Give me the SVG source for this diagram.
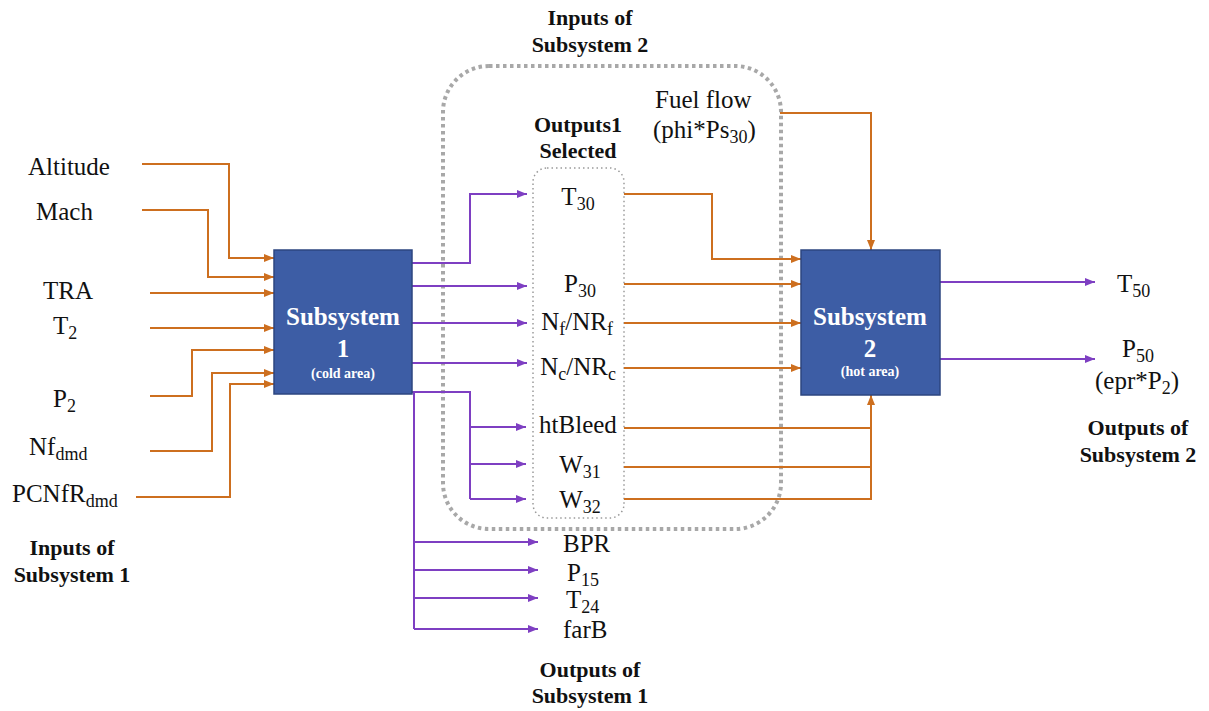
<svg xmlns="http://www.w3.org/2000/svg" width="1209" height="711" viewBox="0 0 1209 711">
<style>
.lbl{font-family:"Liberation Serif","Times New Roman",serif;font-size:25px;fill:#111;}
.sub{font-size:18px;}
.bold{font-family:"Liberation Serif","Times New Roman",serif;font-size:22px;font-weight:bold;fill:#111;}
.boxt{font-family:"Liberation Serif","Times New Roman",serif;font-weight:bold;fill:#fff;text-anchor:middle;}
.box{fill:#3D5DA5;stroke:#2C4680;stroke-width:1.5;}
.or{fill:none;stroke:#CD6F1F;stroke-width:2;}
.pu{fill:none;stroke:#7E3FC2;stroke-width:2;}
.ora{marker-end:url(#ao);}
.pua{marker-end:url(#ap);}
</style>
<defs>
<marker id="ao" markerUnits="userSpaceOnUse" markerWidth="10" markerHeight="8" refX="10" refY="4" orient="auto"><path d="M0,0 L10,4 L0,8 z" fill="#CD6F1F"/></marker>
<marker id="ap" markerUnits="userSpaceOnUse" markerWidth="10" markerHeight="8" refX="10" refY="4" orient="auto"><path d="M0,0 L10,4 L0,8 z" fill="#7E3FC2"/></marker>
</defs>
<rect width="1209" height="711" fill="#fff"/>

<g id="group-inputs2">
<rect x="443" y="66" width="338" height="463" rx="46" fill="none" stroke="#A8A8A8" stroke-width="4" stroke-dasharray="3.5 3.5"/>
<text class="bold" x="590" y="25" text-anchor="middle">Inputs of</text>
<text class="bold" x="590" y="52" text-anchor="middle">Subsystem 2</text>
</g>
<g id="group-outputs1-selected">
<rect x="533" y="168" width="91" height="350" rx="14" fill="none" stroke="#9A9A9A" stroke-width="1.5" stroke-dasharray="1.5 3"/>
<text class="bold" x="578" y="132" text-anchor="middle">Outputs1</text>
<text class="bold" x="578" y="158" text-anchor="middle">Selected</text>
</g>

<g id="connectors">
<path class="or ora" d="M142,164 H229 V258 H274"/>
<path class="or ora" d="M142,210 H208 V277 H274"/>
<path class="or ora" d="M150,293 H274"/>
<path class="or ora" d="M150,328 H274"/>
<path class="or ora" d="M150,396 H192 V350 H274"/>
<path class="or ora" d="M150,451 H212 V373 H274"/>
<path class="or ora" d="M136,497 H230 V384 H274"/>
<path class="pu pua" d="M412,263 H470 V194 H527"/>
<path class="pu pua" d="M412,286 H527"/>
<path class="pu pua" d="M412,323 H527"/>
<path class="pu pua" d="M412,363 H527"/>
<path class="pu" d="M412,392 H470 V499"/>
<path class="pu pua" d="M470,427 H526"/>
<path class="pu pua" d="M470,464 H526"/>
<path class="pu pua" d="M470,499 H526"/>
<path class="pu" d="M414,392 V629"/>
<path class="pu pua" d="M414,542 H538"/>
<path class="pu pua" d="M414,570 H538"/>
<path class="pu pua" d="M414,598 H538"/>
<path class="pu pua" d="M414,629 H538"/>
<path class="or ora" d="M780,113 H871 V250"/>
<path class="or ora" d="M624,194 H712 V259 H801"/>
<path class="or ora" d="M624,284 H801"/>
<path class="or ora" d="M624,323 H801"/>
<path class="or ora" d="M624,368 H801"/>
<path class="or" d="M624,428 H871"/>
<path class="or" d="M624,467 H871"/>
<path class="or ora" d="M624,499 H871 V395"/>
<path class="pu pua" d="M940,282 H1095"/>
<path class="pu pua" d="M940,359 H1095"/>
</g>

<g id="node-subsystem1">
<rect class="box" x="274" y="250" width="138" height="144"/>
<text class="boxt" x="343" y="325" font-size="25">Subsystem</text>
<text class="boxt" x="343" y="357" font-size="25">1</text>
<text class="boxt" x="343" y="378" font-size="14">(cold area)</text>
</g>
<g id="node-subsystem2">
<rect class="box" x="801" y="250" width="139" height="145"/>
<text class="boxt" x="870" y="325" font-size="25">Subsystem</text>
<text class="boxt" x="870" y="357" font-size="25">2</text>
<text class="boxt" x="870" y="376" font-size="14">(hot area)</text>
</g>

<g id="inputs1">
<text class="lbl" x="28" y="175">Altitude</text>
<text class="lbl" x="36" y="220">Mach</text>
<text class="lbl" x="43" y="299">TRA</text>
<text class="lbl" x="53" y="334">T<tspan class="sub" dy="5">2</tspan></text>
<text class="lbl" x="53" y="407">P<tspan class="sub" dy="5">2</tspan></text>
<text class="lbl" x="29" y="455">Nf<tspan class="sub" dy="5">dmd</tspan></text>
<text class="lbl" x="12" y="502">PCNfR<tspan class="sub" dy="5">dmd</tspan></text>
<text class="bold" x="72" y="555" text-anchor="middle">Inputs of</text>
<text class="bold" x="72" y="582" text-anchor="middle">Subsystem 1</text>
</g>

<g id="selected-labels">
<text class="lbl" x="578" y="205" text-anchor="middle">T<tspan class="sub" dy="5">30</tspan></text>
<text class="lbl" x="580" y="292" text-anchor="middle">P<tspan class="sub" dy="5">30</tspan></text>
<text class="lbl" x="577" y="330" text-anchor="middle">N<tspan class="sub" dy="5">f</tspan><tspan dy="-5">/NR</tspan><tspan class="sub" dy="5">f</tspan></text>
<text class="lbl" x="578" y="375" text-anchor="middle">N<tspan class="sub" dy="5">c</tspan><tspan dy="-5">/NR</tspan><tspan class="sub" dy="5">c</tspan></text>
<text class="lbl" x="578" y="433" text-anchor="middle">htBleed</text>
<text class="lbl" x="580" y="473" text-anchor="middle">W<tspan class="sub" dy="5">31</tspan></text>
<text class="lbl" x="580" y="508" text-anchor="middle">W<tspan class="sub" dy="5">32</tspan></text>
</g>

<g id="fuel-flow">
<text class="lbl" x="655" y="108">Fuel flow</text>
<text class="lbl" x="653" y="138">(phi*Ps<tspan class="sub" dy="5">30</tspan><tspan dy="-5">)</tspan></text>
</g>

<g id="outputs1">
<text class="lbl" x="563" y="552">BPR</text>
<text class="lbl" x="567" y="581">P<tspan class="sub" dy="5">15</tspan></text>
<text class="lbl" x="566" y="608">T<tspan class="sub" dy="5">24</tspan></text>
<text class="lbl" x="563" y="638">farB</text>
<text class="bold" x="590" y="677" text-anchor="middle">Outputs of</text>
<text class="bold" x="590" y="703" text-anchor="middle">Subsystem 1</text>
</g>

<g id="outputs2">
<text class="lbl" x="1117" y="292">T<tspan class="sub" dy="5">50</tspan></text>
<text class="lbl" x="1122" y="357">P<tspan class="sub" dy="5">50</tspan></text>
<text class="lbl" x="1095" y="389">(epr*P<tspan class="sub" dy="5">2</tspan><tspan dy="-5">)</tspan></text>
<text class="bold" x="1138" y="435" text-anchor="middle">Outputs of</text>
<text class="bold" x="1138" y="462" text-anchor="middle">Subsystem 2</text>
</g>
</svg>
